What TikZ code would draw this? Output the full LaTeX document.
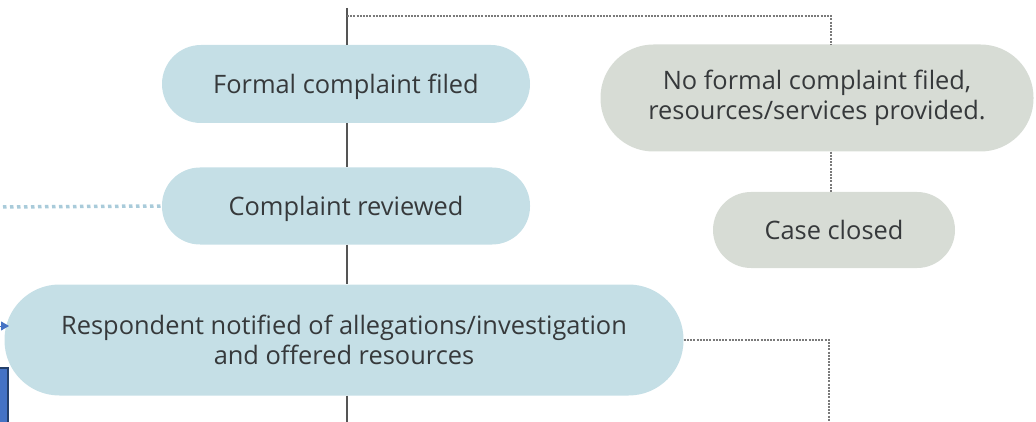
\documentclass[tikz,border=0pt]{standalone}
\usepackage{fontspec}
\setmainfont{Open Sans}
\usepackage{xcolor}
\usetikzlibrary{arrows.meta}
\usetikzlibrary{positioning}

\definecolor{boxblue}{HTML}{C5DFE6}
\definecolor{boxgrey}{HTML}{D7DCD5}
\definecolor{txtgrey}{HTML}{36393B}
\definecolor{linegrey}{HTML}{555555}
\definecolor{dotgrey}{HTML}{7A7A7A}
\definecolor{dotblue}{HTML}{A9CBDA}
\definecolor{markblue}{HTML}{4472C4}
\definecolor{markedge}{HTML}{243F6A}

\tikzset{
  stepbox/.style={rectangle, fill=boxblue, inner sep=0pt, align=center,
    text=txtgrey, font=\fontsize{25.4}{30}\selectfont},
  greybox/.style={stepbox, fill=boxgrey},
  oneline/.style={text depth=0pt},
  flow/.style={draw=linegrey, line width=1.6pt},
  dots/.style={draw=dotgrey, line width=1.8pt, dash pattern=on 2pt off 1.2pt},
}

\begin{document}
\begin{tikzpicture}[x=1pt, y=-1pt]
            \useasboundingbox (0,0) rectangle (1036,422);

            \draw (346,84) node[stepbox, oneline, minimum width=368, minimum height=78, rounded corners=39pt]      (filed) {Formal complaint filed};
            \draw (346,206) node[stepbox, oneline, minimum width=368, minimum height=77, rounded corners=38pt]     (reviewed) {Complaint reviewed};
            \draw (344,340) node[stepbox, minimum width=679, minimum height=111, rounded corners=55pt]    (notified) {Respondent notified of allegations/investigation\\and offered resources};
            \draw (817,98) node[greybox, minimum width=433, minimum height=107, rounded corners=53pt]     (nofile) {No formal complaint filed,\\resources/services provided.};
            \draw (834,230) node[greybox, oneline, minimum width=242, minimum height=76, rounded corners=38pt]     (closed) {Case closed};

            \coordinate (top) at (347,8);
            \coordinate (split) at (347,16);
            \coordinate (bottom) at (347,430);
            \coordinate (leftend) at (-4,207);
            \coordinate (rightend) at (829,430);
            \coordinate (arrstart) at (-6,326);

            \draw[flow] (top) -- (filed.north -| top);
            \draw[flow] (filed.south -| top) -- (reviewed.north -| top);
            \draw[flow] (reviewed.south -| top) -- (notified.north -| top);
            \draw[flow] (notified.south -| top) -- (bottom);

            \draw[dots] (split) -| ([xshift=-3pt]closed.north |- nofile.north);
            \draw[dots] ([xshift=-3pt]closed.north |- nofile.south) -- ([xshift=-3pt]closed.north);
            \draw[dots] (notified.east) -| (rightend);
            \draw[draw=dotblue, line width=3.5pt, dash pattern=on 3.5pt off 3.5pt] (leftend) -- (reviewed.west);

            \draw[markblue, line width=1pt, -{Triangle[length=8pt, width=9pt]}] (arrstart) -- (9,326);
            \draw[fill=markblue, draw=markedge, line width=1.5pt] (-10,368) rectangle (8,440);

            \end{tikzpicture}
\end{document}
